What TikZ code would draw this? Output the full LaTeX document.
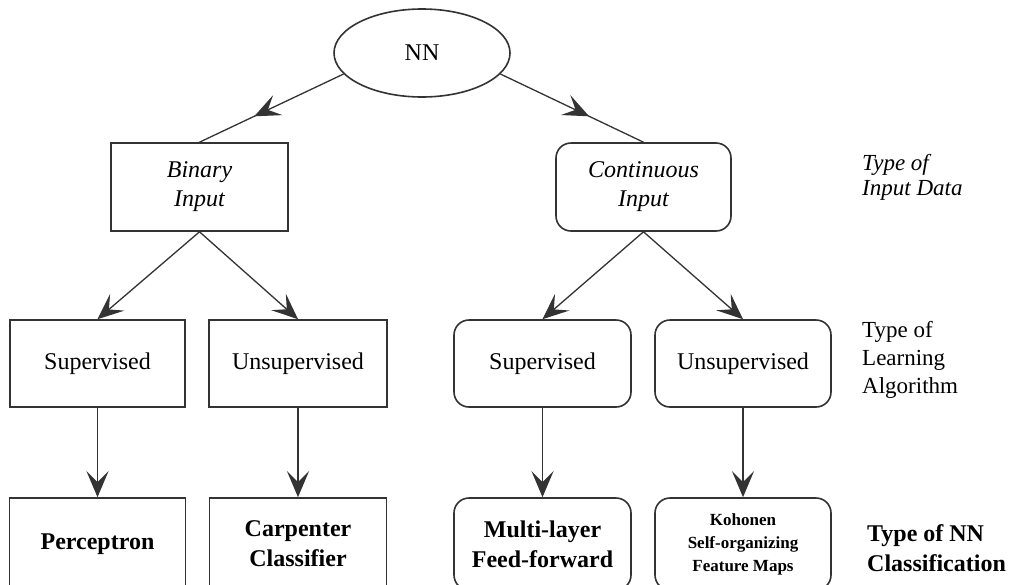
\documentclass[tikz,border=0pt]{standalone}
\usepackage{fontspec}
\setmainfont{Liberation Serif}
\usetikzlibrary{shapes.geometric,arrows.meta,decorations.markings}

\tikzset{
  x=1pt, y=-1pt,
  head/.tip={Stealth[length=26pt,width=22pt,inset=11pt]},
  tip/.style={-head},
  edge/.style={line width=1.3pt, draw=black!80},
  midtip/.style={edge, postaction={decorate}, decoration={markings,
      mark=at position 0.62 with {\arrow{head}}}},
  box/.style={draw=black!80, line width=1.6pt, fill=white, align=center,
      font=\fontsize{24}{29}\selectfont, inner sep=0pt},
  rbox/.style={box, rounded corners=15pt},
  side/.style={align=left, anchor=west, inner sep=0pt},
}

\begin{document}
\begin{tikzpicture}
\useasboundingbox (0,0) rectangle (1019,584);
\clip (0,0) rectangle (1019,584);

% root
\node[box, ellipse, minimum width=176pt, minimum height=88pt] (nn) at (422,53) {NN};

% input data level
\node[box, minimum width=177pt, minimum height=88pt] (bin) at (199.5,187) {\itshape Binary\\\itshape Input};
\node[rbox, minimum width=175pt, minimum height=88pt] (cont) at (643.5,187) {\itshape Continuous\\\itshape Input};

% learning algorithm level
\node[box, minimum width=175pt, minimum height=87pt] (sup1) at (97.5,363.5) {Supervised};
\node[box, minimum width=178pt, minimum height=87pt] (uns1) at (298,363.5) {Unsupervised};
\node[rbox, minimum width=177pt, minimum height=87pt] (sup2) at (542.5,363.5) {Supervised};
\node[rbox, minimum width=176pt, minimum height=87pt] (uns2) at (743,363.5) {Unsupervised};

% classification level
\node[box, minimum width=176pt, minimum height=92pt, font=\fontsize{24}{30}\selectfont\bfseries] (perc) at (97.5,544) {Perceptron};
\node[box, minimum width=177pt, minimum height=92pt, font=\fontsize{24}{30}\selectfont\bfseries] (carp) at (298,544) {Carpenter\\Classifier};
\node[rbox, minimum width=177pt, minimum height=92pt, font=\fontsize{24}{30}\selectfont\bfseries] (mlff) at (542.5,544) {Multi-layer\\Feed-forward};
\node[rbox, minimum width=176pt, minimum height=92pt, font=\fontsize{17}{23}\selectfont\bfseries] (koh) at (743,544) {Kohonen\\Self-organizing\\Feature Maps};

% level captions
\node[side, font=\fontsize{23}{25}\selectfont\itshape] (capin) at (862,177) {Type of\\Input Data};
\node[side, font=\fontsize{23}{28}\selectfont] (caplearn) at (862,360) {Type of\\Learning\\Algorithm};
\node[side, font=\fontsize{24}{30}\selectfont\bfseries] (capnn) at (867,548) {Type of NN\\Classification};

% connectors
\draw[midtip] (nn.195) -- (bin.north);
\draw[midtip] (nn.345) -- (cont.north);

\draw[edge, tip] (bin.south) -- (sup1.north);
\draw[edge, tip] (bin.south) -- (uns1.north);
\draw[edge, tip] (cont.south) -- (sup2.north);
\draw[edge, tip] (cont.south) -- (uns2.north);

\draw[edge, tip] (sup1.south) -- (perc.north);
\draw[edge, tip] (uns1.south) -- (carp.north);
\draw[edge, tip] (sup2.south) -- (mlff.north);
\draw[edge, tip] (uns2.south) -- (koh.north);
\end{tikzpicture}
\end{document}
